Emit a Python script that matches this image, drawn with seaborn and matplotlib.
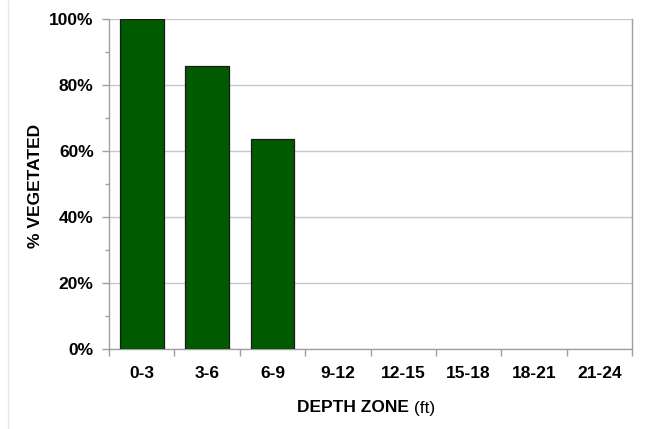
import matplotlib.pyplot as plt
import matplotlib.ticker as mticker
import seaborn as sns
import pandas as pd

# ── Data ──────────────────────────────────────────────────────────────────────
DEPTH_ZONES = ["0-3", "3-6", "6-9", "9-12", "12-15", "15-18", "18-21", "21-24"]
PCT_VEGETATED = [100.0, 85.7, 63.6, 0.0, 0.0, 0.0, 0.0, 0.0]

BAR_COLOUR = "#005a00"
GRID_COLOUR = "#c8c8c8"
AXIS_COLOUR = "#a0a0a0"
FS = 12.5

sns.set_theme(style="white")
plt.rcParams["font.family"] = ["Liberation Sans", "DejaVu Sans"]
plt.rcParams["text.color"] = "black"
plt.rcParams["xtick.labelcolor"] = "black"
plt.rcParams["ytick.labelcolor"] = "black"

df = pd.DataFrame({"zone": DEPTH_ZONES, "pct": PCT_VEGETATED})

fig = plt.figure(figsize=(6.46, 4.29), dpi=100)
ax = fig.add_axes([109 / 646, 1 - 349 / 429, 523 / 646, 330 / 429])

sns.barplot(data=df, x="zone", y="pct", color=BAR_COLOUR, width=0.67,
            edgecolor="#1a1a1a", linewidth=0.9, saturation=1, ax=ax, zorder=3)
# empty zones: no visible outline
for patch in ax.patches:
    if patch.get_height() == 0:
        patch.set_linewidth(0)

ax.set_xlim(-0.5, len(DEPTH_ZONES) - 0.5)
ax.set_ylim(0, 100)
ax.yaxis.set_major_locator(mticker.MultipleLocator(20))
ax.yaxis.set_minor_locator(mticker.MultipleLocator(10))
ax.yaxis.set_major_formatter(mticker.FuncFormatter(lambda v, _: f"{v:.0f}%"))
ax.grid(axis="y", which="major", color=GRID_COLOUR, linewidth=1.0, zorder=0)
ax.set_axisbelow(True)

# x ticks at category boundaries, labels centred on bars
ax.set_xticks(range(len(DEPTH_ZONES)))
ax.set_xticklabels(DEPTH_ZONES)
ax.xaxis.set_minor_locator(mticker.FixedLocator([i - 0.5 for i in range(len(DEPTH_ZONES) + 1)]))
ax.tick_params(axis="both", which="both", bottom=True, left=True)
ax.tick_params(axis="x", which="major", length=0, pad=12, labelsize=FS, bottom=False)
ax.tick_params(axis="x", which="minor", length=5, color=AXIS_COLOUR, width=1, direction="out")
ax.tick_params(axis="y", which="major", length=5, color=AXIS_COLOUR, width=1,
               direction="out", pad=6, labelsize=FS)
ax.tick_params(axis="y", which="minor", length=3, color=AXIS_COLOUR, width=1, direction="out")
for lbl in ax.get_xticklabels() + ax.get_yticklabels():
    lbl.set_fontweight("bold")

for side in ["left", "right", "bottom", "top"]:
    ax.spines[side].set_color(AXIS_COLOUR)
    ax.spines[side].set_linewidth(1.0)
ax.spines["top"].set_visible(False)

ax.set_xlabel("")
ax.set_ylabel("")
fig.text(36 / 646, 1 - 186 / 429, "% VEGETATED", rotation=90, ha="center", va="center",
         fontsize=FS, fontweight="bold")

fig.text(409 / 646, 1 - 408 / 429, "DEPTH ZONE", ha="right", va="center",
         fontsize=FS, fontweight="bold")
fig.text(409 / 646, 1 - 408 / 429, " (ft)", ha="left", va="center", fontsize=FS)

# faint border on the left of the image
fig.add_artist(plt.Line2D([8 / 646, 8 / 646], [0, 1], color="#e6e6e6", linewidth=1,
                          transform=fig.transFigure))

fig.savefig("out.png", dpi=100)
